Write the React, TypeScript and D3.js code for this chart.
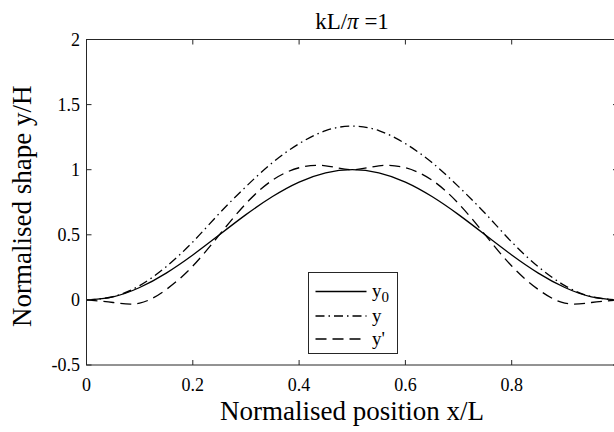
import React from "react";
import * as d3 from "d3";

// values
const xPos = [0, 0.05, 0.1, 0.15, 0.2, 0.25, 0.3, 0.35, 0.4, 0.45, 0.5, 0.55, 0.6, 0.65, 0.7, 0.75, 0.8, 0.85, 0.9, 0.95, 1];
const y0Vals = [0, 0.024, 0.095, 0.206, 0.345, 0.5, 0.655, 0.794, 0.905, 0.976, 1, 0.976, 0.905, 0.794, 0.655, 0.5, 0.345, 0.206, 0.095, 0.024, 0];
const yVals = [0, 0.025, 0.11, 0.255, 0.445, 0.665, 0.87, 1.055, 1.2, 1.3, 1.335, 1.3, 1.2, 1.055, 0.87, 0.665, 0.445, 0.255, 0.11, 0.025, 0];
const ypVals = [0, -0.02, -0.025, 0.08, 0.26, 0.5, 0.74, 0.92, 1.015, 1.03, 1.0, 1.03, 1.015, 0.92, 0.74, 0.5, 0.26, 0.08, -0.025, -0.02, 0];

const xTicks = [0, 0.2, 0.4, 0.6, 0.8, 1];
const xTickLabels = ["0", "0.2", "0.4", "0.6", "0.8"]; // the "1" label falls outside the frame
const yTicks = [-0.5, 0, 0.5, 1, 1.5, 2];

const width = 614;
const height = 432;
const margin = { top: 39.5, left: 86.5, right: 618, bottom: 365 };
const font = '"Liberation Serif", "Times New Roman", Times, "DejaVu Serif", serif';
const axisColor = "#262626";
const tickLen = 5;

const series = [
  { name: "y0", vals: y0Vals, dash: "" },
  { name: "y", vals: yVals, dash: "9,4,1.5,4" },
  { name: "y'", vals: ypVals, dash: "11,6" },
];

export default function App() {
  const x = d3.scaleLinear().domain([0, 1]).range([margin.left, margin.right]);
  const y = d3.scaleLinear().domain([-0.5, 2]).range([margin.bottom, margin.top]);

  const line = d3
    .line<number>()
    .x((_, i) => x(xPos[i]))
    .y((d) => y(d))
    .curve(d3.curveNatural);

  const lg = { x: 308.5, y: 272.5, w: 89, h: 81 };
  const rows = [291.5, 316, 339];

  return (
    <svg
      width={width}
      height={height}
      style={{ position: "absolute", left: 0, top: 0, background: "#fff", fontFamily: font }}
    >
      <rect x={0} y={0} width={width} height={height} fill="#fff" />
      <text x={352} y={29} textAnchor="middle" fontSize={23} fill="#000">
        kL/<tspan fontStyle="italic">π</tspan> =1
      </text>

      {series.map((s) => (
        <path
          key={s.name}
          d={line(s.vals) || ""}
          fill="none"
          stroke="#000"
          strokeWidth={1.3}
          strokeDasharray={s.dash}
        />
      ))}

      {/* axes box */}
      <g stroke={axisColor} strokeWidth={1} fill="none">
        <rect
          x={margin.left}
          y={margin.top}
          width={margin.right - margin.left}
          height={margin.bottom - margin.top}
        />
        {xTicks.map((t) => (
          <g key={"x" + t}>
            <line x1={x(t)} x2={x(t)} y1={margin.bottom} y2={margin.bottom - tickLen} />
            <line x1={x(t)} x2={x(t)} y1={margin.top} y2={margin.top + tickLen} />
          </g>
        ))}
        {yTicks.map((t) => (
          <g key={"y" + t}>
            <line x1={margin.left} x2={margin.left + tickLen} y1={y(t)} y2={y(t)} />
            <line x1={margin.right} x2={margin.right - tickLen} y1={y(t)} y2={y(t)} />
          </g>
        ))}
      </g>

      <g fontSize={18} fill="#000">
        {xTickLabels.map((t) => (
          <text key={"xl" + t} x={x(+t)} y={391} textAnchor="middle">
            {t}
          </text>
        ))}
        {yTicks.map((t) => (
          <text key={"yl" + t} x={80} y={y(t)} dy="0.35em" textAnchor="end">
            {String(t)}
          </text>
        ))}
      </g>

      <text x={352} y={420} textAnchor="middle" fontSize={27} fill="#000">
        Normalised position x/L
      </text>
      <text
        transform={`translate(31, ${(margin.top + margin.bottom) / 2 + 4}) rotate(-90)`}
        textAnchor="middle"
        fontSize={27}
        fill="#000"
      >
        Normalised shape y/H
      </text>

      {/* legend */}
      <rect x={lg.x} y={lg.y} width={lg.w} height={lg.h} fill="#fff" stroke={axisColor} strokeWidth={1} />
      {series.map((s, i) => (
        <g key={"lg" + s.name}>
          <line
            x1={315.5}
            x2={366.5}
            y1={rows[i]}
            y2={rows[i]}
            stroke="#000"
            strokeWidth={1.3}
            strokeDasharray={s.dash}
          />
          <text x={372} y={rows[i]} dy="0.3em" fontSize={19} fill="#000">
            {s.name === "y0" ? (
              <>
                y<tspan fontSize={15} dy="5">0</tspan>
              </>
            ) : (
              s.name
            )}
          </text>
        </g>
      ))}
    </svg>
  );
}
